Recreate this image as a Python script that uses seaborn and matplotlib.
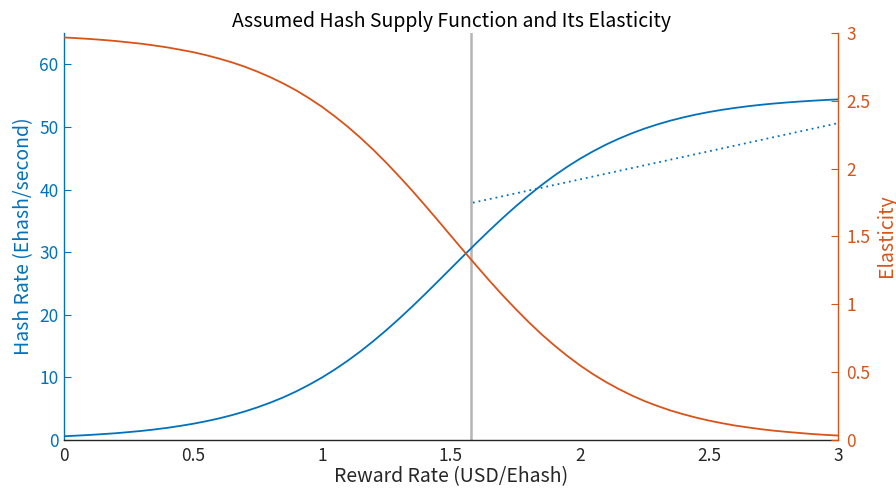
import numpy as np
import pandas as pd
import matplotlib
matplotlib.use("Agg")
import matplotlib.pyplot as plt
import seaborn as sns

# ---- data ----
reward = [0.00, 0.05, 0.10, 0.15, 0.20, 0.25, 0.30, 0.35, 0.40, 0.45,
          0.50, 0.55, 0.60, 0.65, 0.70, 0.75, 0.80, 0.85, 0.90, 0.95,
          1.00, 1.05, 1.10, 1.15, 1.20, 1.25, 1.30, 1.35, 1.40, 1.45,
          1.50, 1.55, 1.60, 1.65, 1.70, 1.75, 1.80, 1.85, 1.90, 1.95,
          2.00, 2.05, 2.10, 2.15, 2.20, 2.25, 2.30, 2.35, 2.40, 2.45,
          2.50, 2.55, 2.60, 2.65, 2.70, 2.75, 2.80, 2.85, 2.90, 2.95, 3.00]
hash_rate = [0.60, 0.70, 0.81, 0.94, 1.08, 1.26, 1.45, 1.68, 1.94, 2.25,
             2.59, 2.99, 3.44, 3.96, 4.55, 5.22, 5.97, 6.81, 7.76, 8.82,
             9.98, 11.27, 12.67, 14.19, 15.83, 17.57, 19.41, 21.33, 23.32, 25.36,
             27.42, 29.48, 31.52, 33.51, 35.44, 37.28, 39.03, 40.68, 42.21, 43.62,
             44.92, 46.09, 47.16, 48.11, 48.97, 49.73, 50.40, 51.00, 51.52, 51.98,
             52.38, 52.73, 53.03, 53.30, 53.53, 53.73, 53.90, 54.05, 54.18, 54.30, 54.39]
elasticity = [2.967, 2.962, 2.956, 2.949, 2.941, 2.931, 2.921, 2.908, 2.894, 2.877,
              2.859, 2.837, 2.812, 2.784, 2.752, 2.715, 2.674, 2.628, 2.577, 2.519,
              2.456, 2.385, 2.309, 2.226, 2.137, 2.042, 1.941, 1.837, 1.728, 1.617,
              1.504, 1.392, 1.281, 1.172, 1.067, 0.967, 0.871, 0.781, 0.698, 0.621,
              0.550, 0.486, 0.428, 0.376, 0.329, 0.287, 0.251, 0.218, 0.190, 0.165,
              0.143, 0.124, 0.107, 0.093, 0.080, 0.069, 0.060, 0.052, 0.044, 0.038, 0.033]
dotted_x = [1.585, 3.0]
dotted_y = [37.9, 50.6]
vline_x = 1.577

x_ticks = [0, 0.5, 1, 1.5, 2, 2.5, 3]
x_ticklabels = ["0", "0.5", "1", "1.5", "2", "2.5", "3"]
left_ticks = [0, 10, 20, 30, 40, 50, 60]
right_ticks = [0, 0.5, 1, 1.5, 2, 2.5, 3]
right_ticklabels = ["0", "0.5", "1", "1.5", "2", "2.5", "3"]

BLUE = "#0072BD"
ORANGE = "#D95319"
DARK = "#262626"

sns.set_style("white")
plt.rcParams["font.family"] = ["Noto Sans CJK JP", "DejaVu Sans"]

fig = plt.figure(figsize=(8.96, 4.92), dpi=100)
ax = fig.add_axes([64/896, 1-440/492, (838-64)/896, (440-33)/492])
ax2 = ax.twinx()

df = pd.DataFrame({"reward": reward, "hash": hash_rate, "elast": elasticity})
dd = pd.DataFrame({"x": dotted_x, "y": dotted_y})

ax.axvline(vline_x, color="#b4b4b4", lw=1.8, zorder=1)
sns.lineplot(data=df, x="reward", y="hash", ax=ax, color=BLUE, lw=1.3, zorder=3)
sns.lineplot(data=dd, x="x", y="y", ax=ax, color=BLUE, lw=1.3, ls=(0, (1, 2.2)), zorder=3)
sns.lineplot(data=df, x="reward", y="elast", ax=ax2, color=ORANGE, lw=1.3, zorder=3)

ax.set_xlim(0, 3)
ax.set_ylim(0, 65)
ax2.set_ylim(0, 3)

fs = 12.5
ax.set_xticks(x_ticks)
ax.set_xticklabels(x_ticklabels)
ax.set_yticks(left_ticks)
ax2.set_yticks(right_ticks)
ax2.set_yticklabels(right_ticklabels)

ax.tick_params(axis="x", direction="in", length=5, width=0.8, colors=DARK, labelsize=fs, pad=5)
ax.tick_params(axis="y", direction="in", length=5, width=0.8, colors=BLUE, labelsize=fs, pad=4)
ax2.tick_params(axis="y", direction="in", length=5, width=0.8, colors=ORANGE, labelsize=fs, pad=6)

for a in (ax, ax2):
    a.spines["top"].set_visible(False)
    a.grid(False)
ax.spines["right"].set_visible(False)
ax.spines["left"].set_color(BLUE)
ax.spines["bottom"].set_color(DARK)
ax2.spines["left"].set_visible(False)
ax2.spines["bottom"].set_visible(False)
ax2.spines["right"].set_color(ORANGE)
for a in (ax, ax2):
    for s in a.spines.values():
        s.set_linewidth(1.0)

ax.set_xlabel("Reward Rate (USD/Ehash)", fontsize=14, color=DARK, labelpad=1)
ax.set_ylabel("Hash Rate (Ehash/second)", fontsize=14, color=BLUE, labelpad=4)
ax.set_title("Assumed Hash Supply Function and Its Elasticity", fontsize=14, color="black", pad=4)
ax2.set_ylabel("")
fig.text(886/896, 1-236/492, "Elasticity", rotation=90, fontsize=14, color=ORANGE,
         ha="center", va="center")

fig.savefig("out.png", dpi=100)
